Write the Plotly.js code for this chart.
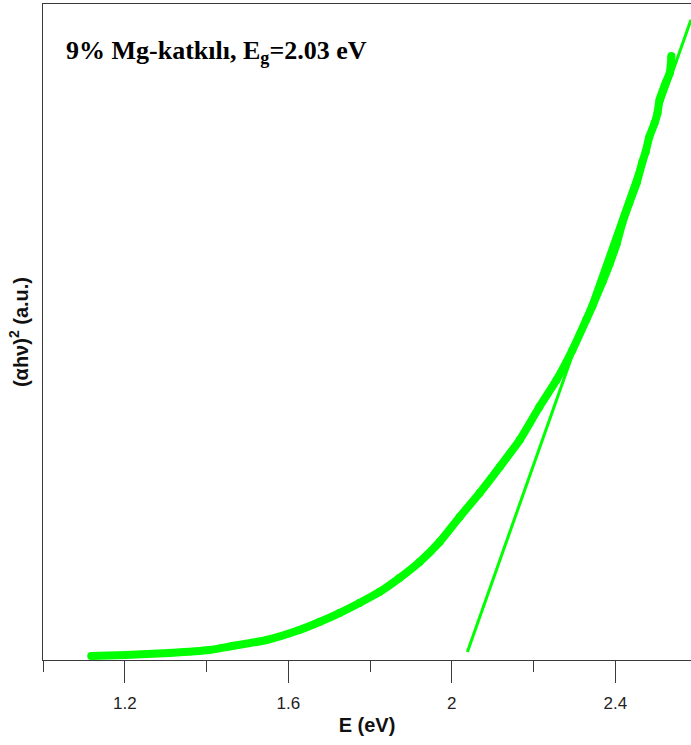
<!DOCTYPE html>
<html>
<head>
<meta charset="utf-8">
<script src="https://cdn.plot.ly/plotly-3.0.1.min.js"></script>
<style>html,body{margin:0;padding:0;background:#fff;}#chart{width:691px;height:745px;}</style>
</head>
<body>
<div id="chart"></div>
<script>
// Measured (alpha h nu)^2 curve, arbitrary units
var energy = [1.118, 1.202, 1.309, 1.407, 1.463, 1.547, 1.627, 1.676, 1.725, 1.774, 1.823, 1.872, 1.921, 1.970, 2.019, 2.068, 2.117, 2.166, 2.214, 2.256, 2.295, 2.329, 2.344, 2.369, 2.386, 2.403, 2.417, 2.434, 2.452, 2.466, 2.474, 2.483, 2.496, 2.503, 2.508, 2.523, 2.533, 2.537];
var absorb = [0.61, 0.76, 1.07, 1.52, 2.13, 3.05, 4.57, 5.79, 7.16, 8.69, 10.37, 12.50, 14.94, 17.99, 21.80, 25.46, 29.42, 33.54, 38.57, 42.68, 47.26, 51.90, 54.00, 57.70, 60.40, 63.40, 66.62, 69.66, 72.71, 75.91, 77.44, 79.73, 81.86, 83.38, 85.37, 87.96, 89.48, 92.07];
// Linear (Tauc) fit endpoints
var fitE = [2.038, 2.585];
var fitY = [1.22, 97.6];
// Axis ticks
var tickVals = [1.2, 1.6, 2.0, 2.4];
var tickText = ['1.2', '1.6', '2', '2.4'];

var green = '#00ff00';
var axisCol = '#3a3a3a';

var traces = [
  {x: energy, y: absorb, type: 'scatter', mode: 'lines+markers',
   line: {color: green, width: 8, shape: 'spline', smoothing: 0.6}, marker: {color: green, size: 8}, hoverinfo: 'skip'},
  {x: fitE, y: fitY, type: 'scatter', mode: 'lines',
   line: {color: green, width: 3}, hoverinfo: 'skip'}
];

var layout = {
  width: 691, height: 745,
  margin: {l: 43, r: 0, t: 4, b: 85},
  paper_bgcolor: '#fff', plot_bgcolor: '#fff',
  showlegend: false,
  font: {family: 'Liberation Sans, Arial, sans-serif', color: '#222'},
  xaxis: {
    range: [1.0, 2.585], showgrid: false, zeroline: false,
    showline: true, linecolor: axisCol, linewidth: 1, mirror: true,
    ticks: 'outside', ticklen: 22, tickcolor: axisCol, tickwidth: 1,
    tickvals: tickVals, ticktext: tickText,
    ticklabelstandoff: 6,
    tickfont: {size: 17, color: '#222'},
    minor: {dtick: 0.2, tick0: 1.0, ticks: 'outside', ticklen: 11, tickcolor: axisCol, tickwidth: 1, showgrid: false},
    title: {text: '<b>E (eV)</b>', font: {size: 20, color: '#111'}, standoff: 5}
  },
  yaxis: {
    range: [0, 100], showgrid: false, zeroline: false,
    showline: true, linecolor: axisCol, linewidth: 1, mirror: false,
    ticks: '', showticklabels: false,
    title: {text: '<b>(αhν)<sup>2</sup> (a.u.)</b>', font: {size: 20, color: '#111'}, standoff: 8}
  },
  annotations: [{
    xref: 'paper', yref: 'paper', x: 0.033, y: 0.927, xanchor: 'left', yanchor: 'middle',
    text: '<b>9% Mg-katkılı, E<sub>g</sub>=2.03 eV</b>', showarrow: false,
    font: {family: 'Liberation Serif, Times New Roman, serif', size: 26, color: '#000'}
  }]
};

Plotly.newPlot('chart', traces, layout, {staticPlot: true, displayModeBar: false});
</script>
</body>
</html>
